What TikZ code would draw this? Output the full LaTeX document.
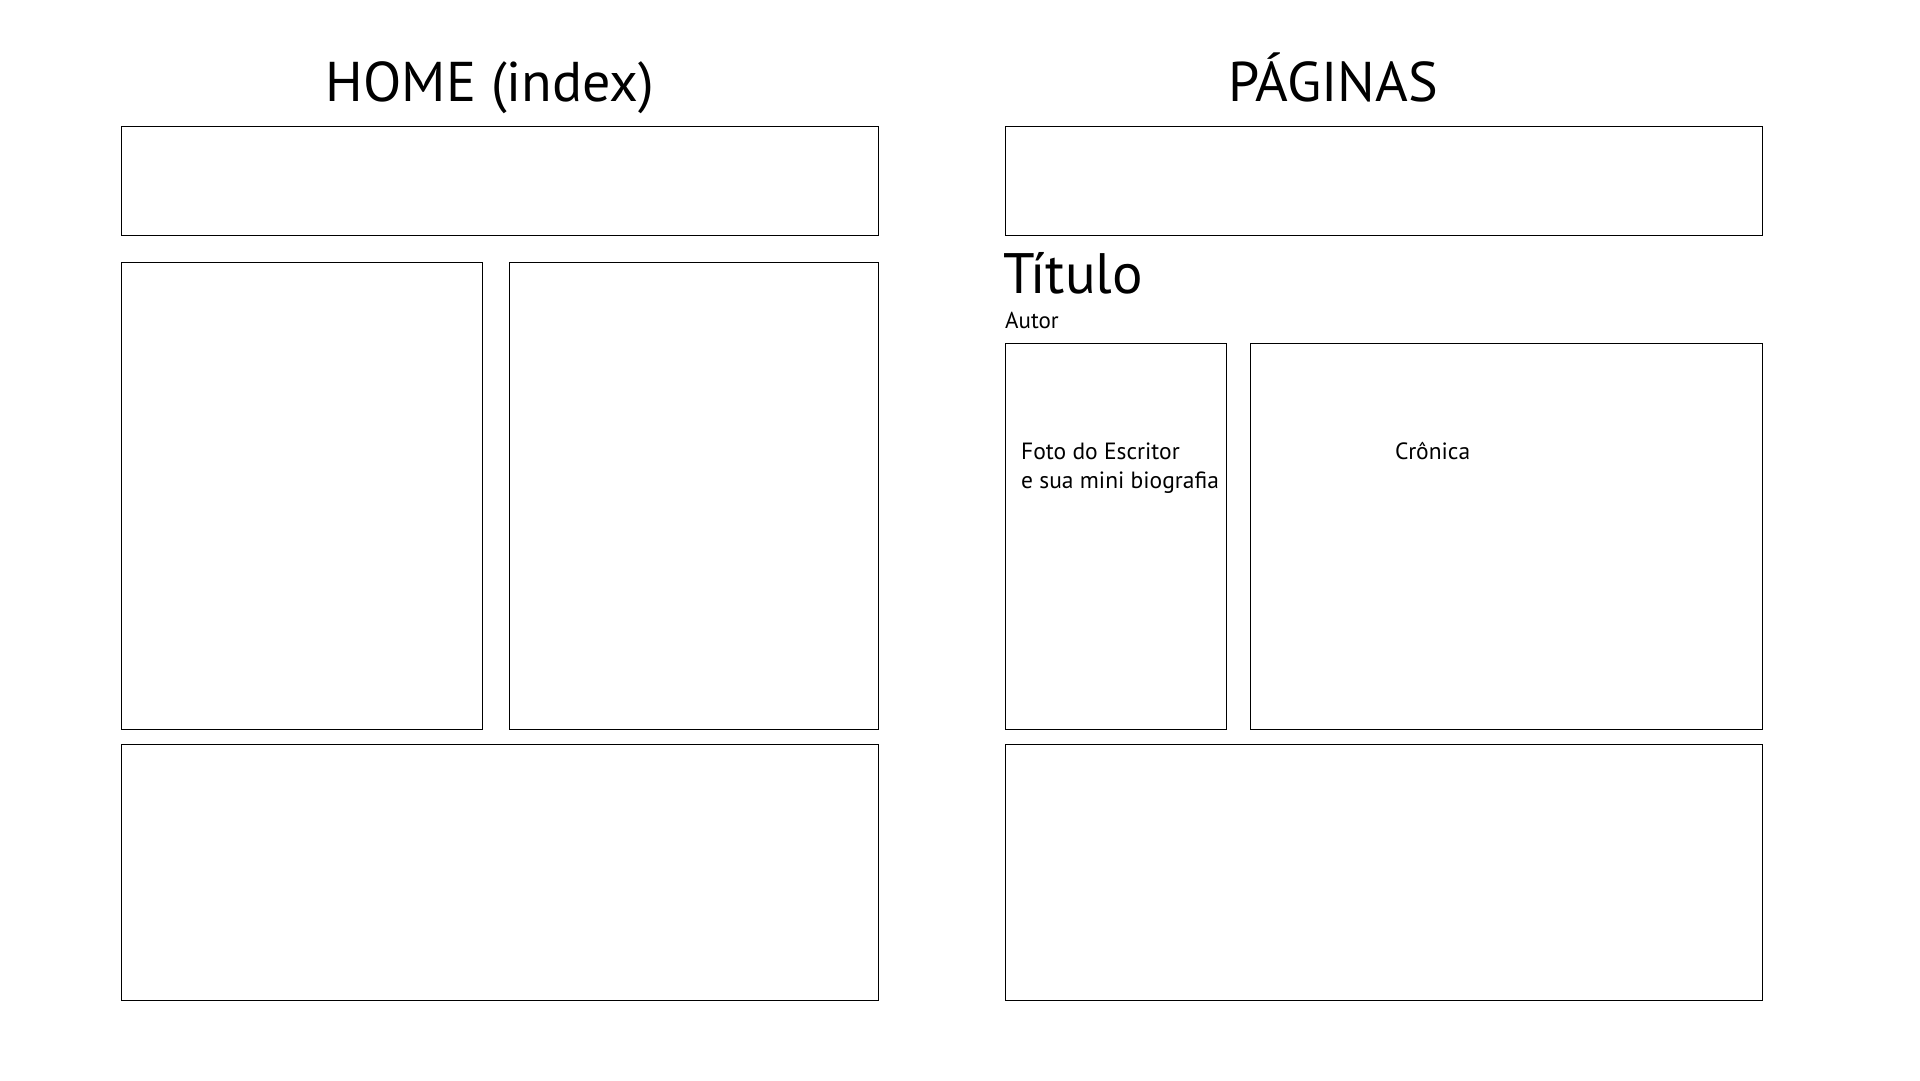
\documentclass[tikz,border=0pt]{standalone}
\usepackage{fontspec}
\setmainfont{PT Sans}
\begin{document}
\begin{tikzpicture}[x=1pt,y=-1pt,
  panel/.style={draw=black, line width=1pt, fill=white, rectangle, inner sep=0pt, outer sep=0pt, anchor=north west},
  heading/.style={inner sep=0pt, anchor=base, font=\fontsize{56}{60}\selectfont},
  label/.style={inner sep=0pt, anchor=base west, font=\fontsize{23.5}{29}\selectfont, align=left}]
  \useasboundingbox[fill=white] (0,0) rectangle (1920,1080);

  % headings
  \node[heading] (homeTitle) at (490,101) {HOME (index)};
  \node[heading] (pagTitle) at (1333,101) {PÁGINAS};

  % home layout
  \node[panel, minimum width=757pt, minimum height=109pt] (hHeader) at (121,126) {};
  \node[panel, minimum width=361pt, minimum height=467pt] (hLeft) at (121,262) {};
  \node[panel, minimum width=369pt, minimum height=467pt] (hRight) at (509,262) {};
  \node[panel, minimum width=757pt, minimum height=256pt] (hFooter) at (121,744) {};

  % article page layout
  \node[panel, minimum width=757pt, minimum height=109pt] (pHeader) at (1005,126) {};
  \node[inner sep=0pt, anchor=base west, font=\fontsize{57}{60}\selectfont] (titulo) at (1003,293) {Título};
  \node[inner sep=0pt, anchor=base west, font=\fontsize{23}{26}\selectfont] (autor) at (1005,328) {Autor};
  \node[panel, minimum width=221pt, minimum height=386pt] (pFoto) at (1005,343) {};
  \node[panel, minimum width=512pt, minimum height=386pt] (pCronica) at (1250,343) {};
  \node[panel, minimum width=757pt, minimum height=256pt] (pFooter) at (1005,744) {};

  % two-line label: base anchor sits on its last line
  \node[label] (fotoText) at (1021,488) {Foto do Escritor\\e sua mini biografia};
  \node[label] (cronicaText) at (1395,459) {Crônica};
\end{tikzpicture}
\end{document}
